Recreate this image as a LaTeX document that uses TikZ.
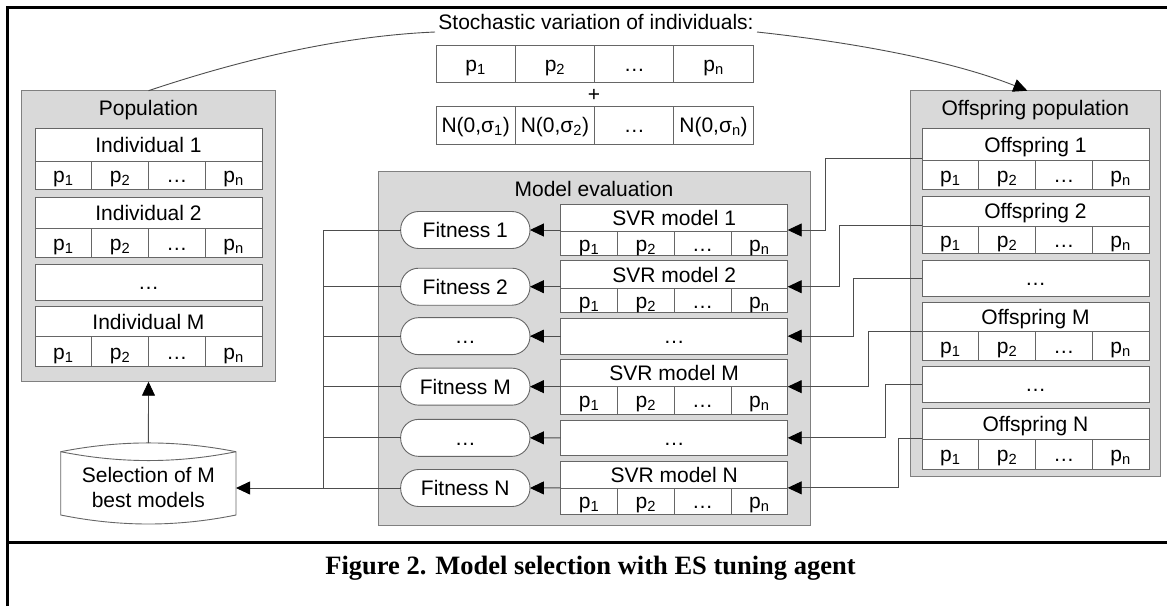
\documentclass[tikz,border=0pt]{standalone}
\usepackage{fontspec}
\setmainfont{Liberation Sans}
\newfontfamily\capfont{Liberation Serif}
\usetikzlibrary{arrows.meta}
\definecolor{boxgray}{HTML}{D9D9D9}
\definecolor{edgegray}{HTML}{808080}
\definecolor{linegray}{HTML}{4D4D4D}
\tikzset{
  lbl/.style={font=\fontsize{21}{25}\selectfont, inner sep=0pt, outer sep=0pt, text height=15pt, text depth=0pt},
  cell/.style={lbl, draw=black!60, fill=white, line width=0.9pt},
  group/.style={draw=edgegray, fill=boxgray, line width=1pt, inner sep=0pt, outer sep=0pt},
  fitbox/.style={lbl, draw=black!60, fill=white, line width=0.9pt, rounded corners=18pt, minimum width=129.3pt, minimum height=37pt},
  conn/.style={draw=linegray, line width=0.9pt},
  arr/.style={-{Triangle[length=14pt,width=13pt,black]}},
  frameline/.style={line width=3pt, draw=black}
}
% record: name, x, ytop, htop, hbot, label
\newcommand\recbox[6]{%
  \node[cell, minimum width=227pt, minimum height=#4pt, anchor=north west] (#1-t) at (#2,#3) {#6};
  \foreach \i/\t in {0/p\textsubscript{1},1/p\textsubscript{2},2/…,3/p\textsubscript{n}}
    \node[cell, minimum width=56.75pt, minimum height=#5pt, anchor=north west] (#1-\i) at ({#2+\i*56.75},{#3+#4}) {\t};
  \node[inner sep=0pt, outer sep=0pt, minimum width=227pt, minimum height={#4+#5}, anchor=north west] (#1) at (#2,#3) {};
}
\newcommand\dotbox[4]{% name, x, ytop, h
  \node[cell, minimum width=227pt, minimum height=#4pt, anchor=north west] (#1) at (#2,#3) {…};
}
\begin{document}
\begin{tikzpicture}[x=1pt,y=-1pt]
\useasboundingbox (0,0) rectangle (1167,606);
% frame
\draw[frameline] (7.5,606) -- (7.5,7) -- (1167,7);
\draw[frameline] (7.5,542.5) -- (1167,542.5);
% caption
\node[font=\capfont\bfseries\fontsize{26.5}{30}\selectfont, anchor=base, inner sep=0pt] (cap) at (590.5,574) {Figure 2. Model selection with ES tuning agent};

% stochastic variation
\node[lbl, anchor=base] (stoch) at (596,29) {Stochastic variation of individuals:};
\coordinate (stl) at (435,32);
\coordinate (str) at (757,32);
\foreach \i/\t in {0/p\textsubscript{1},1/p\textsubscript{2},2/…,3/p\textsubscript{n}}
  \node[cell, minimum width=79.3pt, minimum height=37.7pt, anchor=north west] (pv\i) at ({436+\i*79.3},45) {\t};
\node[lbl] (plus) at (594,94.3) {+};
\foreach \i/\t in {0/{N(0,σ\textsubscript{1})},1/{N(0,σ\textsubscript{2})},2/…,3/{N(0,σ\textsubscript{n})}}
  \node[cell, minimum width=79.3pt, minimum height=38pt, anchor=north west] (nv\i) at ({436+\i*79.3},106) {\t};

% group boxes
\node[group, minimum width=253.6pt, minimum height=291pt, anchor=north west] (pop) at (21.7,90.7) {};
\node[lbl] (poptitle) at (148.5,107.5) {Population};
\node[group, minimum width=249.3pt, minimum height=386pt, anchor=north west] (off) at (910.7,90.7) {};
\node[lbl] (offtitle) at (1035.3,107.5) {Offspring population};
\node[group, minimum width=431.7pt, minimum height=353.3pt, anchor=north west] (eval) at (378.3,171.7) {};
\node[lbl] (evaltitle) at (594,189) {Model evaluation};

% population records
\recbox{i1}{35}{128.7}{32.3}{28.6}{Individual 1}
\recbox{i2}{35}{197}{31.7}{28.6}{Individual 2}
\dotbox{idots}{35}{264}{36}
\recbox{iM}{35}{306.7}{30}{30}{Individual M}

% offspring records
\recbox{o1}{922}{128.3}{32.4}{28.3}{Offspring 1}
\recbox{o2}{922}{196.7}{29.3}{27.3}{Offspring 2}
\dotbox{od1}{922}{260}{36}
\recbox{oM}{922}{302.7}{29}{28.3}{Offspring M}
\dotbox{od2}{922}{366}{36.7}
\recbox{oN}{922}{408.3}{31}{30}{Offspring N}

% SVR records
\recbox{s1}{560.7}{204.3}{27.4}{24}{SVR model 1}
\recbox{s2}{560.7}{260.7}{27.6}{24.4}{SVR model 2}
\dotbox{sd1}{560.7}{318.3}{35.7}
\recbox{sM}{560.7}{359.3}{27.4}{27.3}{SVR model M}
\dotbox{sd2}{560.7}{420}{35.7}
\recbox{sN}{560.7}{461.7}{26.3}{26}{SVR model N}

% fitness nodes
\node[fitbox] (f1) at (465.3,230) {Fitness 1};
\node[fitbox] (f2) at (465.3,286.7) {Fitness 2};
\node[fitbox] (f3) at (465.3,336.15) {…};
\node[fitbox] (fM) at (465.3,386.65) {Fitness M};
\node[fitbox] (f5) at (465.3,437.85) {…};
\node[fitbox] (fN) at (465.3,488) {Fitness N};

% selection cylinder
\node[lbl, align=center, minimum width=175.3pt, minimum height=90pt, text height=, text depth=] (sel) at (148.4,488) {};
\draw[draw=black!60, fill=white, line width=0.9pt]
  (60.7,451.7) .. controls (120,440) and (177,440) .. (236,451.7)
  -- (236,515) .. controls (177,527) and (120,527) .. (60.7,515) -- cycle;
\draw[draw=black!60, line width=0.9pt]
  (60.7,451.7) .. controls (120,463.5) and (177,463.5) .. (236,451.7);
\node[font=\fontsize{21}{25}\selectfont, align=center, inner sep=0pt] (seltext) at (148.4,487.5) {Selection of M\\best models};

% connectors: stochastic curve
\draw[conn] (pop.north) .. controls (240,60) and (340,36) .. (stl);
\draw[conn,arr] (str) .. controls (850,42) and (950,60) .. ([xshift=-8pt]off.north);

% offspring -> SVR
\draw[conn,arr] (o1.west) -| ([xshift=37.7pt]s1.east) -- (s1.east);
\draw[conn,arr] (o2.west) -| ([xshift=51.7pt]s2.east) -- (s2.east);
\draw[conn,arr] (od1.west) -| ([xshift=66pt]sd1.east) -- (sd1.east);
\draw[conn,arr] (oM.west) -| ([xshift=81pt]sM.east) -- (sM.east);
\draw[conn,arr] (od2.west) -| ([xshift=97.7pt]sd2.east) -- (sd2.east);
\draw[conn,arr] (oN.west) -| ([xshift=111pt]sN.east) -- (sN.east);

% SVR -> fitness
\draw[conn,arr] (s1.west) -- (f1.east);
\draw[conn,arr] (s2.west) -- (f2.east);
\draw[conn,arr] (sd1.west) -- (f3.east);
\draw[conn,arr] (sM.west) -- (fM.east);
\draw[conn,arr] (sd2.west) -- (f5.east);
\draw[conn,arr] (sN.west) -- (fN.east);

% fitness -> selection
\coordinate (bus) at (323,488);
\draw[conn] (f1.west) -| (bus);
\draw[conn] (f2.west) -| (bus);
\draw[conn] (f3.west) -| (bus);
\draw[conn] (fM.west) -| (bus);
\draw[conn] (f5.west) -| (bus);
\draw[conn,arr] (fN.west) -- (sel.east);

% selection -> population
\draw[conn,arr] (sel.north) -- (pop.south);
\end{tikzpicture}
\end{document}
